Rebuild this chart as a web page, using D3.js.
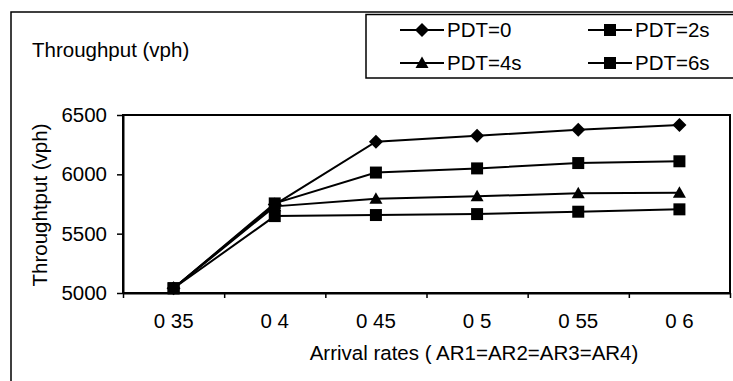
<!DOCTYPE html>
<html><head><meta charset="utf-8">
<script src="https://cdn.jsdelivr.net/npm/d3@7"></script>
<style>body{margin:0;background:#fff}svg{display:block}text{font-family:"Liberation Sans",Arial,sans-serif;fill:#000}</style>
</head><body><svg id="c" width="733" height="381"></svg>
<script>
const categories = ["0 35","0 4","0 45","0 5","0 55","0 6"];
const pdt0 = [5040, 5745, 6275, 6325, 6375, 6415];
const pdt2 = [5040, 5755, 6015, 6050, 6095, 6110];
const pdt4 = [5040, 5730, 5795, 5815, 5840, 5845];
const pdt6 = [5040, 5648, 5657, 5665, 5685, 5705];
const seriesNames = ["PDT=0","PDT=2s","PDT=4s","PDT=6s"];
const seriesMarkers = ["diamond","square","triangle","square"];
const yTicks = [5000,5500,6000,6500];

const series = [pdt0,pdt2,pdt4,pdt6].map((v,i)=>({name:seriesNames[i],marker:seriesMarkers[i],values:v}));
const svg = d3.select("#c");
const L=123,R=730,T=115,B=293;
const FS = 20.5;
const x = d3.scaleBand().domain(categories).range([L,R]).padding(0);
const xb = d3.scaleLinear().domain([0,categories.length]).range([L,R]);
const y = d3.scaleLinear().domain([5000,6500]).range([B,T]);
const cx = c => x(c)+x.bandwidth()/2;

function markerPath(type){
  if(type==="diamond") return "M0,-7L7,0L0,7L-7,0Z";
  if(type==="square") return "M-6,-6H6V6H-6Z";
  return "M0,-6.5L6.5,5L-6.5,5Z";
}

// outer frame
svg.append("path").attr("d",`M11,381V12H733`).attr("fill","none").attr("stroke","#000").attr("stroke-width",1.5);
// header text
svg.append("text").attr("x",32).attr("y",57).attr("font-size",FS).text("Throughput (vph)");

// legend
svg.append("rect").attr("x",366).attr("y",14.5).attr("width",400).attr("height",63.5)
  .attr("fill","none").attr("stroke","#000").attr("stroke-width",1.5);
const legPos = [[400,30],[588,30],[400,63],[588,63]];
series.forEach((s,i)=>{
  const [lx,ly]=legPos[i];
  const g = svg.append("g");
  g.append("line").attr("x1",lx).attr("x2",lx+44).attr("y1",ly).attr("y2",ly).attr("stroke","#000").attr("stroke-width",2);
  g.append("path").attr("d",markerPath(s.marker)).attr("transform",`translate(${lx+22},${ly})`).attr("fill","#000");
  g.append("text").attr("x",lx+47).attr("y",ly+7).attr("font-size",FS).text(s.name);
});

// plot frame
svg.append("rect").attr("x",L).attr("y",T).attr("width",R-L).attr("height",B-T)
  .attr("fill","none").attr("stroke","#000").attr("stroke-width",2);

// y axis
const ya = svg.append("g").attr("transform",`translate(${L},0)`)
  .call(d3.axisLeft(y).tickValues(yTicks).tickFormat(d3.format("d")).tickSize(6).tickSizeOuter(0).tickPadding(10));
ya.select(".domain").attr("stroke-width",2);
ya.selectAll("text").attr("font-size",FS).attr("font-family","Liberation Sans, Arial, sans-serif").attr("fill","#000");
ya.selectAll("line").attr("stroke-width",1.5);

// x axis boundary ticks
const xa = svg.append("g").attr("transform",`translate(0,${B})`)
  .call(d3.axisBottom(xb).ticks(categories.length).tickFormat("").tickSize(5).tickSizeOuter(0));
xa.select(".domain").attr("stroke-width",2);
xa.selectAll("line").attr("stroke-width",1.5);
// x labels
const xl = svg.append("g").attr("transform",`translate(0,${B})`)
  .call(d3.axisBottom(x).tickSize(0).tickPadding(20));
xl.select(".domain").remove();
xl.selectAll("text").attr("font-size",FS).attr("font-family","Liberation Sans, Arial, sans-serif").attr("fill","#000");

// titles
svg.append("text").attr("transform","translate(47,205) rotate(-90)").attr("text-anchor","middle").attr("font-size",FS).text("Throughtput (vph)");
svg.append("text").attr("x",474).attr("y",360).attr("text-anchor","middle").attr("font-size",FS).text("Arrival rates ( AR1=AR2=AR3=AR4)");

// series
const line = d3.line().x((d,i)=>cx(categories[i])).y(d=>y(d));
series.forEach(s=>{
  svg.append("path").datum(s.values).attr("d",line).attr("fill","none").attr("stroke","#000").attr("stroke-width",2);
});
series.forEach(s=>{
  svg.append("g").selectAll("path").data(s.values).join("path")
    .attr("d",markerPath(s.marker))
    .attr("transform",(d,i)=>`translate(${cx(categories[i])},${y(d)})`)
    .attr("fill","#000");
});
</script></body></html>
